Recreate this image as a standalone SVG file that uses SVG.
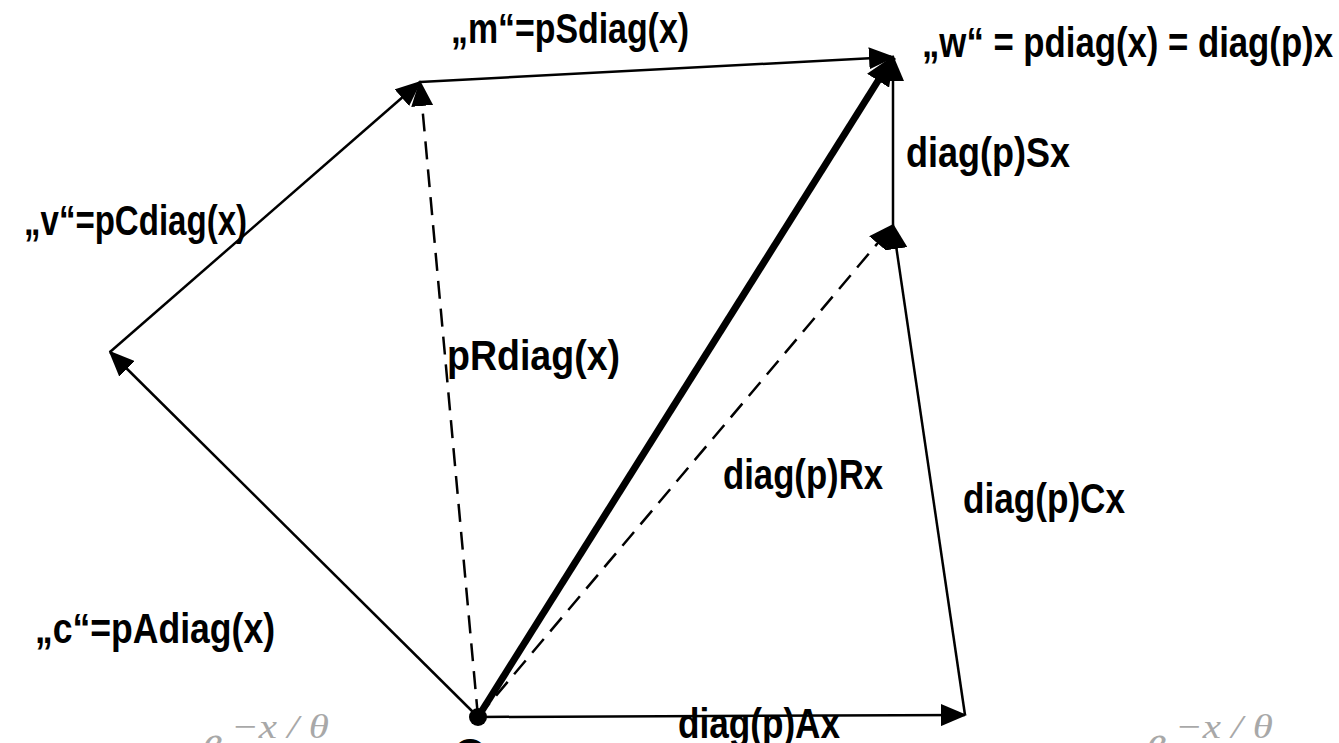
<svg xmlns="http://www.w3.org/2000/svg" width="1339" height="743" viewBox="0 0 1339 743">
<defs>
<marker id="ah" markerUnits="userSpaceOnUse" markerWidth="26" markerHeight="22" viewBox="0 0 26 22" refX="24" refY="11" orient="auto"><path d="M0,0 L26,11 L0,22 Z" fill="#000"/></marker>
<marker id="ahb" markerUnits="userSpaceOnUse" markerWidth="30" markerHeight="26" viewBox="0 0 30 26" refX="28" refY="13" orient="auto"><path d="M0,0 L30,13 L0,26 Z" fill="#000"/></marker>
<style>
.t{font-family:"Liberation Sans Narrow","Arial Narrow","Liberation Sans",sans-serif;font-weight:bold;font-size:42px;fill:#000}
.c{stroke:#000;stroke-width:2.5;fill:none;marker-end:url(#ah)}
.d{stroke-dasharray:18,10}
.f{font-family:"Liberation Serif","DejaVu Serif",serif;font-style:italic;fill:#a8a8a8}
</style>
</defs>
<rect width="1339" height="743" fill="#fff"/>
<g id="connectors">
<line class="c" x1="478" y1="717" x2="110" y2="352"/>
<line class="c" x1="110" y1="352" x2="420" y2="82"/>
<line class="c" x1="420" y1="82" x2="893" y2="57"/>
<line class="c d" x1="478" y1="717" x2="420" y2="82"/>
<line class="c" x1="478" y1="717" x2="965" y2="715"/>
<line class="c" x1="965" y1="715" x2="893" y2="225"/>
<line class="c d" x1="478" y1="717" x2="893" y2="225"/>
<line class="c" x1="893" y1="225" x2="893" y2="57"/>
<line x1="478" y1="717" x2="893" y2="57" stroke="#000" stroke-width="7" marker-end="url(#ahb)"/>
</g>
<g id="origin">
<circle cx="478" cy="717" r="9" fill="#000"/>
<text class="t" x="470" y="768" text-anchor="middle">O</text>
</g>
<g id="labels">
<text class="t" x="451" y="43" textLength="238" lengthAdjust="spacingAndGlyphs">„m“=pSdiag(x)</text>
<text class="t" x="922" y="57" textLength="411" lengthAdjust="spacingAndGlyphs">„w“ = pdiag(x) = diag(p)x</text>
<text class="t" x="24" y="235" textLength="223" lengthAdjust="spacingAndGlyphs">„v“=pCdiag(x)</text>
<text class="t" x="447" y="370" textLength="173" lengthAdjust="spacingAndGlyphs">pRdiag(x)</text>
<text class="t" x="906" y="167" textLength="164" lengthAdjust="spacingAndGlyphs">diag(p)Sx</text>
<text class="t" x="723" y="489" textLength="160" lengthAdjust="spacingAndGlyphs">diag(p)Rx</text>
<text class="t" x="963" y="513" textLength="162" lengthAdjust="spacingAndGlyphs">diag(p)Cx</text>
<text class="t" x="35" y="643" textLength="240" lengthAdjust="spacingAndGlyphs">„c“=pAdiag(x)</text>
<text class="t" x="678" y="738" textLength="162" lengthAdjust="spacingAndGlyphs">diag(p)Ax</text>
</g>
<g id="faint">
<text class="f" x="203" y="756" font-size="44">e</text>
<text class="f" x="231" y="738" font-size="34" textLength="98" lengthAdjust="spacingAndGlyphs">−x / θ</text>
<text class="f" x="1147" y="756" font-size="44">e</text>
<text class="f" x="1175" y="738" font-size="34" textLength="98" lengthAdjust="spacingAndGlyphs">−x / θ</text>
</g>
</svg>
